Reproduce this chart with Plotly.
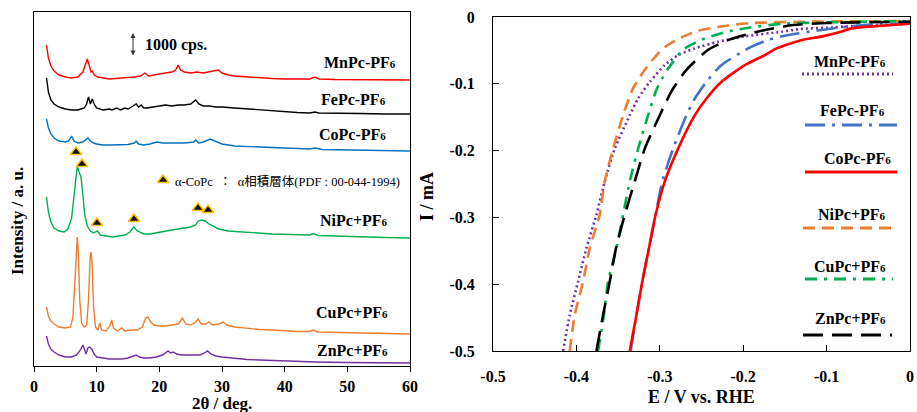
import plotly.graph_objects as go

# ---------------- XRD data (2theta / deg, intensity a.u. stacked) ----------------
mn_tt = [2.0,2.3,2.7,3.2,4,5,6,7,7.8,8.2,8.5,8.8,9.1,9.3,9.6,10.2,11,12,13,14,15,16,17,17.7,18.3,19,20,21,22,22.6,23,23.4,24,25,26,27,28,29,29.4,30,31,32,34,36,38,40,42,44,44.8,45.5,48,52,56,60]
mn_py = [45,58,66,71,75,77,78,77,72,64,59,65,72,71,75,77,78,79,78.5,78,78,77,76,73,76,75,74,73,72,70,65,70,72,73,72,73,72,71,70,73,75,76,77,78,78.5,79,79,79,77,79,79.5,79.5,80,80]

fe_tt = [2,2.3,2.7,3.2,4,5,6,7,8,8.4,8.7,9.0,9.3,9.6,10,11,12,12.5,13.2,13.8,14.5,15,15.8,16.3,16.7,17.1,17.5,18,19,20,21,22,23,24,25,25.8,26.3,27,28,29,30,32,34,36,38,40,42,44,44.8,45.5,48,52,56,60]
fe_py = [78,92,100,104,107,109,110,110,108,104,97,104,99,104,108,110,109,110,108,110,108,109,106,104,107,105,108,108,107,106,105,106,105,105,104,100,104,106,106,107,107,108,109,110,111,112,112.5,113,112,113,113,113.5,114,114]

co_tt = [2,2.3,2.7,3.2,4,5,5.5,6.0,6.4,7,7.8,8.6,9.0,9.5,10,11,12,13,14,15,16,16.3,16.7,17.5,18.5,19.6,20.5,22,24,25.5,25.8,26.3,27,28.1,28.8,30,32,35,38,40,44,44.8,46,50,55,60]
co_py = [119,128,134,138,141,142,141,136,141,143,142,138,141,143,144,145,145,145,145,144.5,143,141,144,145,144,142,143,143,143,142,140,143,142,139,141,144,146,147,148,148,149,148,149.5,150,150.5,151]

ni_tt = [2,2.3,2.7,3.2,4,4.8,5.4,6.0,6.4,6.7,6.9,7.2,7.5,7.8,8.1,8.5,9,9.5,10.1,10.6,11.5,12.5,13.5,14.5,15.3,15.9,16.5,17.5,18.5,20,21,22,23,24,25,25.8,26.2,26.8,27.3,27.9,28.5,29.5,31,33,35,38,41,44,44.6,45.3,48,52,56,60]
ni_py = [197,212,222,228,231,232,229,218,195,175,166,172,177,195,215,226,231,233,231,235,236,237,236,235,232,227,231,234,234,232,231,230,229,228,227,225,221,220,221,224,226,229,231,232,233,234,234.5,235,233.5,235.5,236,237,237.5,238]

cu_tt = [2,2.3,2.7,3.2,4,5,5.8,6.2,6.5,6.75,6.9,7.05,7.3,7.6,8,8.4,8.7,8.95,9.1,9.25,9.5,9.8,10.2,10.5,10.8,11.5,12.1,12.4,12.7,13.3,14,14.5,15.5,16.5,17.3,17.8,18.2,18.6,19.2,20,21,22,23,23.7,24.2,25,25.8,26.2,26.7,27.4,27.9,28.5,29.5,30.2,30.8,32,34,36,38,40,42,44,44.6,45.3,48,52,56,60]
cu_py = [307,316,321,324,327,328,327,318,285,245,237,250,300,323,327,325,300,258,252,262,305,327,330,323,330,331,326,320,328,331,328,331,330,330,327,318,317,322,325,326,326,325,324,318,324,325,322,319,324,324,322,325,324,322,325,327,328.5,329.5,330,331,331.5,331.5,330,332,332.5,333,333.5,334]

zn_tt = [2,2.3,2.7,3.2,4,5,6,6.8,7.4,7.8,8.1,8.3,8.6,8.9,9.2,9.6,10,11,12,13,14,15,15.8,16.3,16.8,17.5,18.5,19.5,20.5,21.4,21.8,22.2,22.8,23.5,24.5,25.5,26.5,27.2,27.7,28.2,29,30,32,34,36,40,45,50,55,60]
zn_py = [336,344,349,352,355,357,357,355,350,345,350,354,348,347,349,354,357,358,359,359,359,358,356,355,357,358,358,357,355,351,353,352,354,355,355,355,355,353,351,354,356,357,358.5,359.5,360,361,362,362.5,363,363]

XRD_TOP = 366  # intensity = XRD_TOP - reading
xrd_names = ["MnPc-PF6", "FePc-PF6", "CoPc-PF6", "NiPc+PF6", "CuPc+PF6", "ZnPc+PF6"]
xrd_colors = ["#FF0000", "#000000", "#0070C0", "#00B050", "#ED7D31", "#7030A0"]
xrd_tt = [mn_tt, fe_tt, co_tt, ni_tt, cu_tt, zn_tt]
xrd_py = [mn_py, fe_py, co_py, ni_py, cu_py, zn_py]

# alpha-CoPc marks
tri_tt = [6.70, 7.66, 10.05, 15.96, 26.17, 27.77]
tri_int = [214, 202, 143, 147, 158, 156]

# ---------------- LSV data (E / V vs RHE, I / mA) ----------------
mn_E = [-0.416,-0.408,-0.398,-0.388,-0.376,-0.366,-0.354,-0.336,-0.326,-0.312,-0.294,-0.278,-0.258,-0.230,-0.198,-0.154,-0.132,-0.100,-0.070,-0.036,0.0]
mn_I = [-0.50,-0.446,-0.396,-0.346,-0.296,-0.246,-0.197,-0.147,-0.122,-0.097,-0.072,-0.057,-0.047,-0.037,-0.029,-0.022,-0.018,-0.016,-0.014,-0.012,-0.010]

fe_E = [-0.335,-0.328,-0.321,-0.313,-0.305,-0.297,-0.284,-0.268,-0.258,-0.244,-0.226,-0.194,-0.170,-0.146,-0.104,-0.056,0.0]
fe_I = [-0.50,-0.446,-0.396,-0.346,-0.296,-0.246,-0.197,-0.147,-0.122,-0.097,-0.072,-0.047,-0.034,-0.027,-0.019,-0.012,-0.009]

co_E = [-0.336,-0.328,-0.321,-0.313,-0.305,-0.294,-0.278,-0.258,-0.244,-0.226,-0.198,-0.174,-0.160,-0.144,-0.128,-0.105,-0.085,-0.070,-0.045,0.0]
co_I = [-0.50,-0.446,-0.396,-0.346,-0.296,-0.246,-0.197,-0.147,-0.122,-0.097,-0.072,-0.057,-0.047,-0.040,-0.034,-0.029,-0.023,-0.017,-0.014,-0.010]

ni_E = [-0.408,-0.402,-0.392,-0.384,-0.378,-0.372,-0.366,-0.356,-0.344,-0.333,-0.318,-0.298,-0.280,-0.255,-0.220,-0.190,-0.120,0.0]
ni_I = [-0.50,-0.446,-0.396,-0.346,-0.321,-0.296,-0.246,-0.197,-0.147,-0.109,-0.079,-0.049,-0.034,-0.021,-0.013,-0.009,-0.007,-0.006]

cu_E = [-0.374,-0.367,-0.362,-0.352,-0.344,-0.336,-0.326,-0.314,-0.304,-0.291,-0.272,-0.250,-0.219,-0.188,-0.153,-0.100,0.0]
cu_I = [-0.50,-0.446,-0.396,-0.346,-0.296,-0.246,-0.197,-0.147,-0.109,-0.079,-0.049,-0.034,-0.022,-0.015,-0.010,-0.008,-0.006]

zn_E = [-0.376,-0.368,-0.360,-0.3525,-0.342,-0.330,-0.318,-0.300,-0.285,-0.268,-0.242,-0.217,-0.183,-0.140,-0.100,0.0]
zn_I = [-0.50,-0.446,-0.396,-0.346,-0.296,-0.246,-0.197,-0.147,-0.109,-0.079,-0.049,-0.034,-0.022,-0.012,-0.009,-0.007]

lsv_E = [mn_E, fe_E, co_E, ni_E, cu_E, zn_E]
lsv_I = [mn_I, fe_I, co_I, ni_I, cu_I, zn_I]
lsv_colors = ["#7030A0", "#4472C4", "#FF0000", "#ED7D31", "#00B050", "#000000"]
lsv_dash = ["2px,3px", "20px,7px,3px,7px", "solid", "12px,7px", "12px,7px,3px,7px", "20px,9px"]

tick_E = [-0.5, -0.4, -0.3, -0.2, -0.1, 0]
tick_E_txt = ["-0.5", "-0.4", "-0.3", "-0.2", "-0.1", "0"]
tick_I = [-0.5, -0.4, -0.3, -0.2, -0.1, 0]
tick_I_txt = ["-0.5", "-0.4", "-0.3", "-0.2", "-0.1", "0"]

W, H = 917, 412
SERIF = "Liberation Serif"

def px(x):
    return x / W

def py(y):
    return (H - y) / H

fig = go.Figure()

for tt, pys, c in zip(xrd_tt, xrd_py, xrd_colors):
    fig.add_trace(go.Scatter(x=tt, y=[XRD_TOP - v for v in pys], mode="lines",
                             line=dict(color=c, width=1.4), xaxis="x", yaxis="y",
                             showlegend=False, hoverinfo="skip"))

fig.add_trace(go.Scatter(x=tri_tt + [20.6], y=tri_int + [186], mode="markers",
                         marker=dict(symbol="triangle-up", size=10, color="#111111",
                                     line=dict(color="#FFC000", width=1.5)),
                         xaxis="x", yaxis="y", showlegend=False, hoverinfo="skip"))

for E, I, c, d in zip(lsv_E, lsv_I, lsv_colors, lsv_dash):
    fig.add_trace(go.Scatter(x=E, y=I, mode="lines",
                             line=dict(color=c, width=2.6, dash=d, shape="spline", smoothing=0.6),
                             xaxis="x2", yaxis="y2", showlegend=False, hoverinfo="skip"))

tickfont = dict(family=SERIF, size=16, color="black", weight="bold")

fig.update_layout(
    template="none",
    width=W, height=H, margin=dict(l=0, r=0, t=0, b=0, pad=0, autoexpand=False),
    paper_bgcolor="white", plot_bgcolor="white", showlegend=False,
    xaxis=dict(domain=[px(34), px(410)], range=[0, 60], dtick=10, ticks="outside", ticklen=5,
               tickcolor="black", showline=True, linecolor="black", linewidth=1, mirror=True,
               showgrid=False, zeroline=False, tickfont=tickfont, ticklabelstandoff=1,
               automargin=False, anchor="y"),
    yaxis=dict(domain=[py(366), py(12)], range=[0, 354], showticklabels=False, ticks="",
               showline=True, linecolor="black", linewidth=1, mirror=True,
               showgrid=False, zeroline=False, automargin=False, anchor="x"),
    xaxis2=dict(domain=[px(493), px(910)], range=[-0.5, 0], tickvals=tick_E, ticktext=tick_E_txt,
                ticks="inside", ticklen=6, tickcolor="black", showline=True, linecolor="black",
                linewidth=1, mirror=True, showgrid=False, zeroline=False, tickfont=tickfont,
                ticklabelstandoff=11, anchor="y2", automargin=False),
    yaxis2=dict(domain=[py(351), py(17)], range=[-0.5, 0], tickvals=tick_I, ticktext=tick_I_txt,
                ticks="inside", ticklen=6, tickcolor="black", showline=True, linecolor="black",
                linewidth=1, mirror=True, showgrid=False, zeroline=False, tickfont=tickfont,
                ticklabelstandoff=14, anchor="x2", automargin=False),
)

def sub6(name):
    base = name[:-1]
    return "<b>" + base + "<span style='font-size:11px'>6</span></b>"

ann = []
left_pos = [(360, 62), (353, 99), (352, 134), (354, 220), (352, 312), (352, 350)]
for name, (x, y) in zip(xrd_names, left_pos):
    ann.append(dict(x=px(x), y=py(y), xref="paper", yref="paper", text=sub6(name), showarrow=False,
                    font=dict(family=SERIF, size=16, color="black"), xanchor="center", yanchor="middle"))
right_pos = [(850, 61), (852, 110), (857, 158), (852, 214), (850, 266), (850, 318)]
for name, (x, y) in zip(xrd_names, right_pos):
    ann.append(dict(x=px(x), y=py(y), xref="paper", yref="paper", text=sub6(name), showarrow=False,
                    font=dict(family=SERIF, size=16, color="black"), xanchor="center", yanchor="middle"))

ann.append(dict(x=px(173), y=py(181), xref="paper", yref="paper",
                text="α-CoPc  ：  α相積層体(PDF : 00-044-1994)", showarrow=False,
                font=dict(family=SERIF + ", Noto Sans CJK JP", size=12.5, color="black"),
                xanchor="left", yanchor="middle"))
ann.append(dict(x=15.8, y=XRD_TOP - 33, ax=15.8, ay=XRD_TOP - 57, xref="x", yref="y",
                axref="x", ayref="y", text="", showarrow=True, arrowhead=2, arrowside="end+start",
                arrowsize=1, arrowwidth=1, arrowcolor="#333333"))
ann.append(dict(x=px(143), y=py(45), xref="paper", yref="paper", text="<b>1000 cps.</b>",
                showarrow=False, font=dict(family=SERIF, size=16, color="black"),
                xanchor="left", yanchor="middle"))
ann.append(dict(x=px(222), y=py(403), xref="paper", yref="paper", text="<b>2θ / deg.</b>",
                showarrow=False, font=dict(family=SERIF, size=17, color="black"),
                xanchor="center", yanchor="middle"))
ann.append(dict(x=px(17), y=py(221), xref="paper", yref="paper", text="<b>Intensity / a. u.</b>",
                showarrow=False, textangle=-90, font=dict(family=SERIF, size=17, color="black"),
                xanchor="center", yanchor="middle"))
ann.append(dict(x=px(701), y=py(397), xref="paper", yref="paper", text="<b>E / V vs. RHE</b>",
                showarrow=False, font=dict(family=SERIF, size=18, color="black"),
                xanchor="center", yanchor="middle"))
ann.append(dict(x=px(427), y=py(197), xref="paper", yref="paper", text="<b>I / mA</b>",
                showarrow=False, textangle=-90, font=dict(family=SERIF, size=18, color="black"),
                xanchor="center", yanchor="middle"))
fig.update_layout(annotations=ann)

samples = [(802, 893, 74), (805, 897, 125), (805, 897, 172), (803, 897, 228), (805, 893, 279), (803, 892, 335)]
shapes = []
for (x0, x1, y), c, d in zip(samples, lsv_colors, lsv_dash):
    shapes.append(dict(type="line", xref="paper", yref="paper", x0=px(x0), x1=px(x1), y0=py(y), y1=py(y),
                       line=dict(color=c, width=3, dash=d)))
fig.update_layout(shapes=shapes)

fig.write_html("out.html", config={"displayModeBar": False},
               post_script="document.body.style.margin='0';document.body.style.overflow='hidden';")
